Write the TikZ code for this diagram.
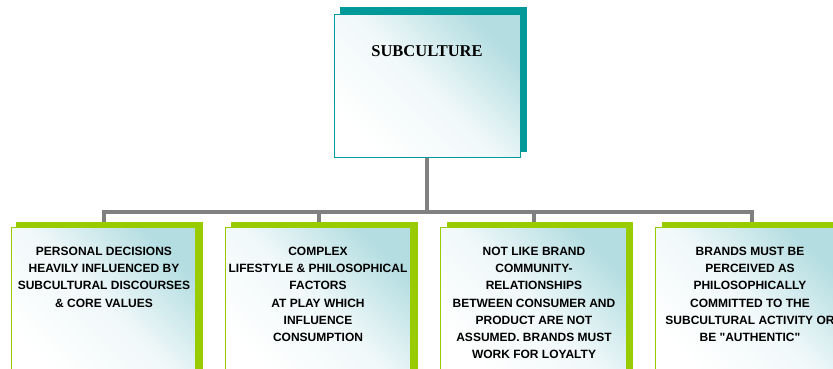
\documentclass[tikz,border=0pt]{standalone}
\usepackage{fontspec}
\setmainfont{Liberation Sans}[Ligatures=TeXOff]
\newfontfamily\serifbold{Liberation Serif}
\definecolor{tealdk}{HTML}{009999}
\definecolor{lime}{HTML}{99CC00}
\definecolor{conngray}{HTML}{808080}
\definecolor{pale}{HTML}{B3DDE1}
\begin{document}
\begin{tikzpicture}[x=1pt,y=-1pt,
  shadowbox/.style={fill=#1, draw=none, inner sep=0pt, anchor=north west},
  facebox/.style={draw=#1, line width=0.9pt, top color=pale, bottom color=white, middle color=pale!20!white, shading angle=-45, inner sep=0pt, anchor=north west},
  boxtext/.style={font=\bfseries\fontsize{12}{17.2}\selectfont, align=center, inner sep=0pt, anchor=north},
  toptext/.style={font=\serifbold\bfseries\fontsize{16.5}{20}\selectfont, inner sep=0pt},
  connector/.style={draw=conngray, line width=4pt}]
\useasboundingbox (0,0) rectangle (833,369);
\clip (0,0) rectangle (833,369);
\fill[white] (0,0) rectangle (833,369);

% connectors
\coordinate (barL) at (104,212);
\coordinate (barR) at (752,212);
\coordinate (d1) at (104,224);
\coordinate (d2) at (319,224);
\coordinate (d3) at (534,224);
\coordinate (d4) at (752,224);

% top box
\node[shadowbox=tealdk, minimum width=187pt, minimum height=145pt] (ts) at (340,7) {};
\node[facebox=tealdk, minimum width=186pt, minimum height=143pt] (top) at (334,14) {};
\node[toptext] (toptxt) at (427,51) {SUBCULTURE};

\draw[connector] (top.south) -- (top.south |- barL);
\draw[connector] (d1) -- (barL) -- (barR) -- (d4);
\draw[connector] (d2 |- barL) -- (d2);
\draw[connector] (d3 |- barL) -- (d3);

% bottom boxes
\node[shadowbox=lime, minimum width=187pt, minimum height=160pt] (s1) at (16,222) {};
\node[facebox=lime, minimum width=184pt, minimum height=150pt] (f1) at (11,227) {};
\node[shadowbox=lime, minimum width=187pt, minimum height=160pt] (s2) at (231,222) {};
\node[facebox=lime, minimum width=185pt, minimum height=150pt] (f2) at (225,227) {};
\node[shadowbox=lime, minimum width=186pt, minimum height=160pt] (s3) at (447,222) {};
\node[facebox=lime, minimum width=186pt, minimum height=150pt] (f3) at (440,227) {};
\node[shadowbox=lime, minimum width=187pt, minimum height=160pt] (s4) at (662,222) {};
\node[facebox=lime, minimum width=186pt, minimum height=150pt] (f4) at (655,227) {};

\node[boxtext] (t1) at (104,247) {PERSONAL DECISIONS\\HEAVILY INFLUENCED BY\\SUBCULTURAL DISCOURSES\\\& CORE VALUES};
\node[boxtext] (t2) at (318,247) {COMPLEX\\LIFESTYLE \& PHILOSOPHICAL\\FACTORS\\AT PLAY WHICH\\INFLUENCE\\CONSUMPTION};
\node[boxtext] (t3) at (534,247) {NOT LIKE BRAND\\COMMUNITY-\\RELATIONSHIPS\\BETWEEN CONSUMER AND\\PRODUCT ARE NOT\\ASSUMED. BRANDS MUST\\WORK FOR LOYALTY};
\node[boxtext] (t4) at (750,247) {BRANDS MUST BE\\PERCEIVED AS\\PHILOSOPHICALLY\\COMMITTED TO THE\\SUBCULTURAL ACTIVITY OR\\BE "AUTHENTIC"};
\end{tikzpicture}
\end{document}
